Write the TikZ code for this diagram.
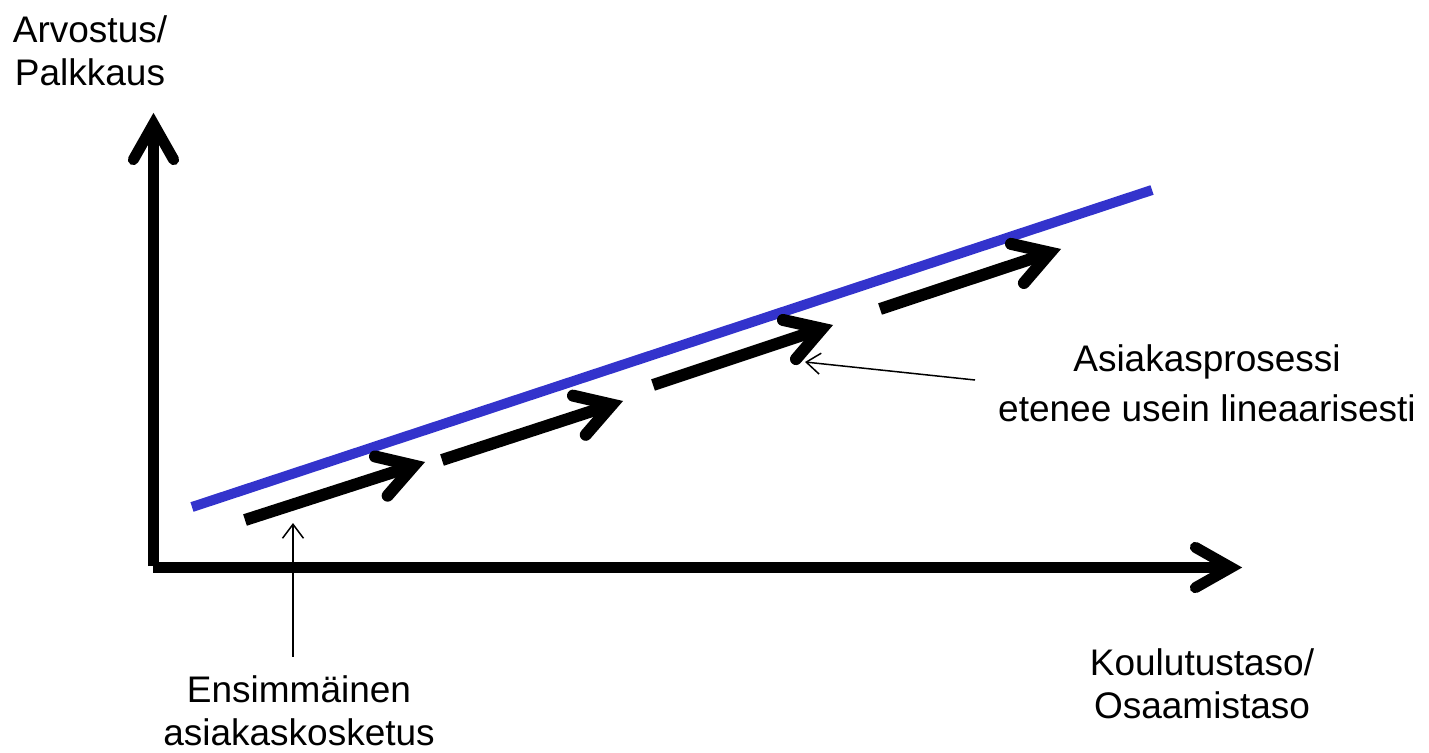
\documentclass[tikz,border=0pt]{standalone}
\usepackage{fontspec}
\setmainfont{Liberation Sans}
\usetikzlibrary{arrows.meta,calc}
\definecolor{lineblue}{RGB}{51,51,204}
\tikzset{
  axis/.style={line width=11pt, line cap=butt},
  axishead/.style={line width=11pt, line cap=round, line join=miter},
  fat/.style={line width=12pt, line cap=butt},
  fathead/.style={line width=12pt, line cap=round, line join=miter},
  trend/.style={line width=10pt, lineblue, line cap=butt},
  pointer/.style={line width=1.5pt, -{Straight Barb[length=14pt,width=21pt]}},
  lbl/.style={font=\fontsize{37}{43}\selectfont, align=center, inner sep=0pt, outer sep=0pt},
}
% #1 tip, #2 tail, #3 vertex offset, #4 wing length, #5 half angle, #6 style
\newcommand\myhead[6]{%
  \coordinate (hv) at ($(#1)!#3!(#2)$);
  \draw[#6] ($(hv)!#4!#5:(#2)$) -- (hv) -- ($(hv)!#4!-#5:(#2)$);
}
\newcommand\myfat[2]{%
  \coordinate (hv) at ($(#2)!11.6pt!(#1)$);
  \draw[fat] (#1) -- (hv);
  \myhead{#2}{#1}{11.6pt}{40pt}{31}{fathead}
}
\begin{document}
\begin{tikzpicture}[x=1pt,y=-1pt]
\useasboundingbox (0,0) rectangle (1429,752);
% axes
\coordinate (origin) at (153.5,566);
\coordinate (ytip) at (153.5,113);
\coordinate (xorig) at (153,567.5);
\coordinate (xtip) at (1242,567.5);
\coordinate (yv) at ($(ytip)!11pt!(origin)$);
\draw[axis] (origin) -- (yv);
\myhead{ytip}{origin}{11pt}{41pt}{29.5}{axishead}
\coordinate (xv) at ($(xtip)!11pt!(xorig)$);
\draw[axis] (xorig) -- (xv);
\myhead{xtip}{xorig}{11pt}{41pt}{29.5}{axishead}
% trend line
\coordinate (b1) at (192,507);
\coordinate (b2) at (1152,190);
\draw[trend] (b1) -- (b2);
% process arrows
\coordinate (a1) at (245,520); \coordinate (t1) at (425,462);
\coordinate (a2) at (442,460); \coordinate (t2) at (623,401);
\coordinate (a3) at (653,385); \coordinate (t3) at (833,325);
\coordinate (a4) at (880,309); \coordinate (t4) at (1061,249);
\myfat{a1}{t1}
\myfat{a2}{t2}
\myfat{a3}{t3}
\myfat{a4}{t4}
% labels
\node[lbl] (ylab) at (90,50.5) {Arvostus/\\Palkkaus};
\node[lbl] (xlab) at (1202,684) {Koulutustaso/\\Osaamistaso};
\node[lbl] (ens) at (299,711) {Ensimmäinen\\asiakaskosketus};
\node[lbl] (proc) at (1207,383) {Asiakasprosessi\\[7pt]etenee usein lineaarisesti};
% pointers
\coordinate (enstip) at (293,523);
\draw[pointer, shorten <=19pt] (ens.north -| enstip) -- (enstip);
\coordinate (procstart) at (975,380);
\coordinate (proctip) at (805,362);
\draw[pointer] (procstart) -- (proctip);
\end{tikzpicture}
\end{document}
